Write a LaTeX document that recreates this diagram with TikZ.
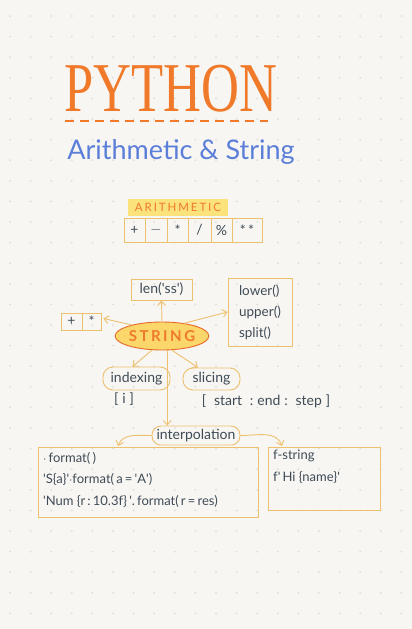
\documentclass[tikz,border=0pt]{standalone}
\usepackage{fontspec}
\usepackage{graphicx}
\setmainfont{Lato}
\newfontfamily\titlefont{Liberation Serif}
\usetikzlibrary{arrows.meta,shapes.geometric}
\definecolor{paper}{HTML}{F7F6F2}
\definecolor{griddot}{HTML}{DEDDD8}
\definecolor{pyorange}{HTML}{F07A2A}
\definecolor{subblue}{HTML}{5B7FD9}
\definecolor{boxline}{HTML}{EDC06E}
\definecolor{hilite}{HTML}{FBE27A}
\definecolor{inkgray}{HTML}{3F4B57}
\definecolor{strfill}{HTML}{FAD66B}
\definecolor{strline}{HTML}{E86A2A}
\newcommand{\squote}{\textquotesingle}
\tikzset{
  opbox/.style={draw=boxline, line width=0.9pt, minimum height=24pt, inner sep=0pt,
    text=inkgray, font=\fontsize{14}{14}\selectfont},
  codebox/.style={draw=boxline, line width=0.9pt, inner sep=0pt},
  codetext/.style={text=inkgray, font=\fontsize{13}{21.5}\selectfont, align=left, inner sep=0pt},
  bubble/.style={draw=boxline, line width=0.9pt, rounded corners=10pt, inner sep=0pt,
    text=inkgray, font=\fontsize{14}{14}\selectfont},
  link/.style={draw=boxline, line width=0.9pt, -{Straight Barb[length=4.5pt,width=8pt]}},
}
\begin{document}
\begin{tikzpicture}[x=1pt,y=-1pt]
    % Paper and dot grid
    \fill[paper] (0,0) rectangle (412,629);
    \useasboundingbox (0,0) rectangle (412,629);
    \foreach \i in {0,...,19}
      \foreach \j in {0,...,29}
        \fill[griddot] (10+20.6*\i,16+20.6*\j) circle (1);

    % Title
    \node[text=pyorange, font=\titlefont\fontsize{70}{70}\selectfont, inner sep=0pt]
      (title) at (171,89) {\scalebox{0.75}[1]{PYTHON}};
    \draw[pyorange, line width=1.6pt, dash pattern=on 9pt off 6pt] (65,121) -- (268,121);
    \node[text=subblue, font=\fontsize{27}{27}\selectfont, inner sep=0pt]
      (subtitle) at (181,152) {Arithmetic \& String};

    % Arithmetic
    \node[fill=hilite, text=pyorange, font=\fontsize{11.5}{11.5}\selectfont, minimum width=100pt,
      minimum height=17pt, inner sep=0pt] (arithlabel) at (178,207.5) {A\,R\,I\,T\,H\,M\,E\,T\,I\,C};
    \foreach \c/\w/\s [count=\k] in {134.5/21/+, 156/22/$-$, 177.5/21/*, 199.5/23/{/}, 221.5/21/\%, 247/30/*\,*}
      \node[opbox, minimum width=\w pt] (op\k) at (\c,230) {\s};

    % String and its methods
    \node[ellipse, draw=strline, fill=strfill, line width=0.9pt, minimum width=88pt, minimum height=28pt,
      inner sep=0pt, text=pyorange, font=\fontsize{15}{15}\selectfont\bfseries] (string) at (162,336)
      {S\,T\,R\,I\,N\,G};
    \node[opbox, minimum width=61pt, minimum height=21pt] (len) at (161.5,289.5) {len(\squote ss\squote)};
    \node[opbox, minimum width=64pt, minimum height=68pt, align=left, font=\fontsize{13.5}{21}\selectfont]
      (methods) at (260,312) {lower()\\upper()\\split()};
    \node[opbox, minimum width=21pt, minimum height=17pt] (plus) at (71.5,321.5) {+};
    \node[opbox, minimum width=19pt, minimum height=17pt] (star) at (91.5,321.5) {*};
    \draw[link] (string.north) -- (len.south);
    \draw[link] (string.160) -- ([xshift=2pt,yshift=3pt]star.east);
    \draw[link] (string.30) -- (methods.west);

    % Indexing and slicing
    \node[bubble, minimum width=67pt, minimum height=23pt] (indexing) at (136.5,378.5) {indexing};
    \node[bubble, minimum width=57pt, minimum height=22pt] (slicing) at (211.5,379) {slicing};
    \node[text=inkgray, font=\fontsize{14}{14}\selectfont] (idxform) at (124,399) {[\;i\;]};
    \node[text=inkgray, font=\fontsize{14}{14}\selectfont] (slcform) at (266,401)
      {[\;\;start\;\;:\;end\;:\;\;step\;]};
    \draw[link] (string.235) -- ([xshift=-4pt]indexing.north);
    \draw[link] (string.305) -- (slicing.140);

    % Interpolation
    \node[bubble, minimum width=88pt, minimum height=19pt, rounded corners=9pt] (interp) at (196,435.5) {interpolation};
    \draw[link] (string.290) -- (string.290 |- interp.north);
    \node[codebox, minimum width=220pt, minimum height=70pt] (fmtbox) at (148,482) {};
    \node[codebox, minimum width=112pt, minimum height=63pt] (fstrbox) at (324,478.5) {};
    \coordinate (fmtin) at (118,446);
    \coordinate (fstrin) at (282,446);
    \draw[link] (interp.west) to[out=180,in=70] (fmtin);
    \draw[link] (interp.east) to[out=0,in=110] (fstrin);
    \node[codetext, anchor=north west] (fmttext) at (43,452)
      {$\cdot$\,format(\,)\\
       \squote S\{a\}\squote$\cdot$format(\,a\,=\,\squote A\squote)\\
       \squote Num \{r\,:\,10.3f\}\,\squote.\,format(\,r\,=\,res)};
    \node[codetext, anchor=north west] (fstrtext) at (273,450)
      {f-string\\ f\squote\,Hi \{name\}\squote};
\end{tikzpicture}
\end{document}
